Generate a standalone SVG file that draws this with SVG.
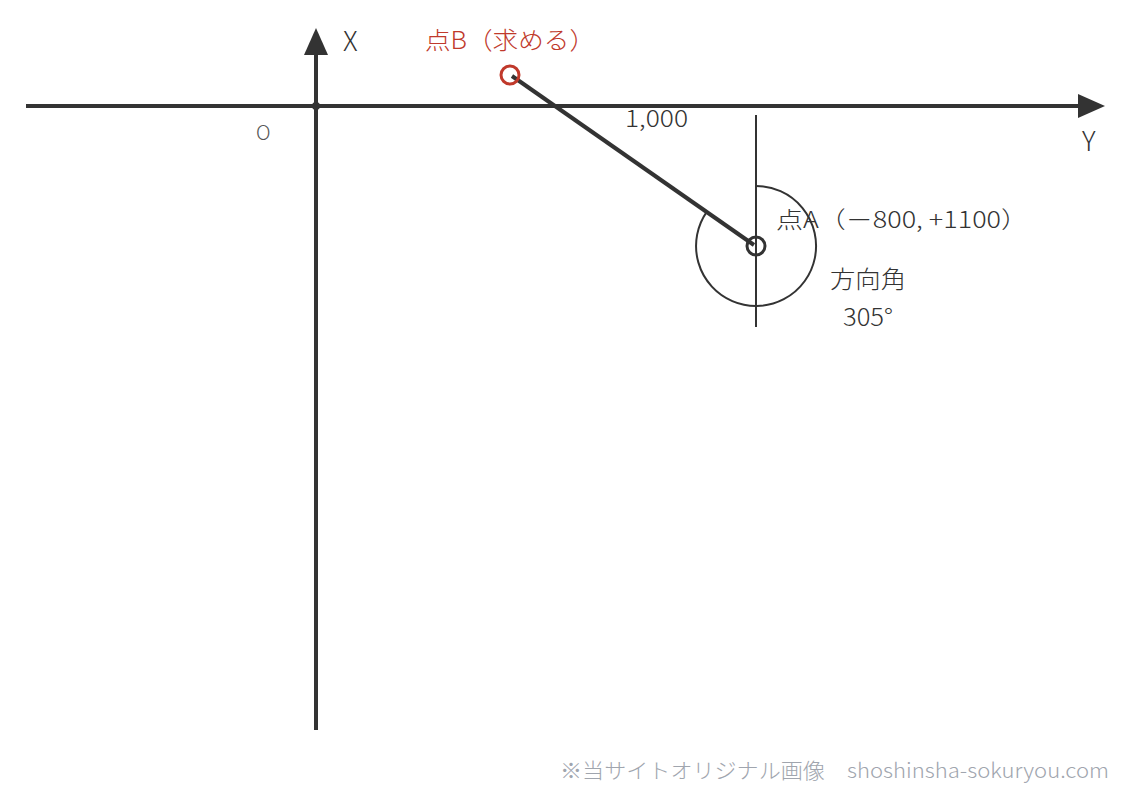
<svg xmlns="http://www.w3.org/2000/svg" width="1126" height="793" viewBox="0 0 1126 793">
<style>
text{font-family:"Noto Sans CJK JP","Noto Sans",sans-serif;font-weight:300;fill:#333}
.axis{stroke:#333;stroke-width:4;fill:none}
.thin{stroke:#333;stroke-width:2;fill:none}
.foot{fill:#a0a5ae;font-size:21px}
</style>
<rect width="1126" height="793" fill="#fff"/>
<g id="connectors">
<line class="axis" x1="26" y1="106" x2="1080" y2="106"/>
<polygon points="1078,94 1105,106 1078,118" fill="#333"/>
<line class="axis" x1="316" y1="730" x2="316" y2="52"/>
<polygon points="304,55 316,28 328,55" fill="#333"/>
<circle cx="316" cy="106" r="4" fill="#333"/>
<line class="thin" x1="756" y1="115" x2="756" y2="327"/>
<path class="thin" d="M756,186 A60,60 0 1 1 706.9,211.6"/>
<line x1="512" y1="76" x2="754" y2="245" stroke="#333" stroke-width="4"/>
</g>
<g id="pointB">
<circle cx="510" cy="75" r="9" fill="none" stroke="#c0392b" stroke-width="3"/>
<text x="425" y="49" font-size="24" textLength="170" lengthAdjust="spacingAndGlyphs" style="fill:#c0392b">点B（求める）</text>
</g>
<g id="pointA">
<circle cx="756" cy="246" r="9" fill="none" stroke="#333" stroke-width="3"/>
<text x="776" y="228" font-size="23" textLength="252" lengthAdjust="spacingAndGlyphs">点A（－800, +1100）</text>
<text x="830" y="288" font-size="24" textLength="76" lengthAdjust="spacingAndGlyphs">方向角</text>
<text x="843" y="326" font-size="24" textLength="50" lengthAdjust="spacingAndGlyphs">305°</text>
</g>
<g id="labels">
<text x="343" y="51" font-size="27">X</text>
<text x="1082" y="151" font-size="27">Y</text>
<text x="256" y="140" font-size="20" style="fill:#555">O</text>
<text x="625" y="127" font-size="23" textLength="63" lengthAdjust="spacingAndGlyphs">1,000</text>
<text x="560" y="778" class="foot" textLength="549" lengthAdjust="spacingAndGlyphs">※当サイトオリジナル画像　shoshinsha-sokuryou.com</text>
</g>
</svg>
